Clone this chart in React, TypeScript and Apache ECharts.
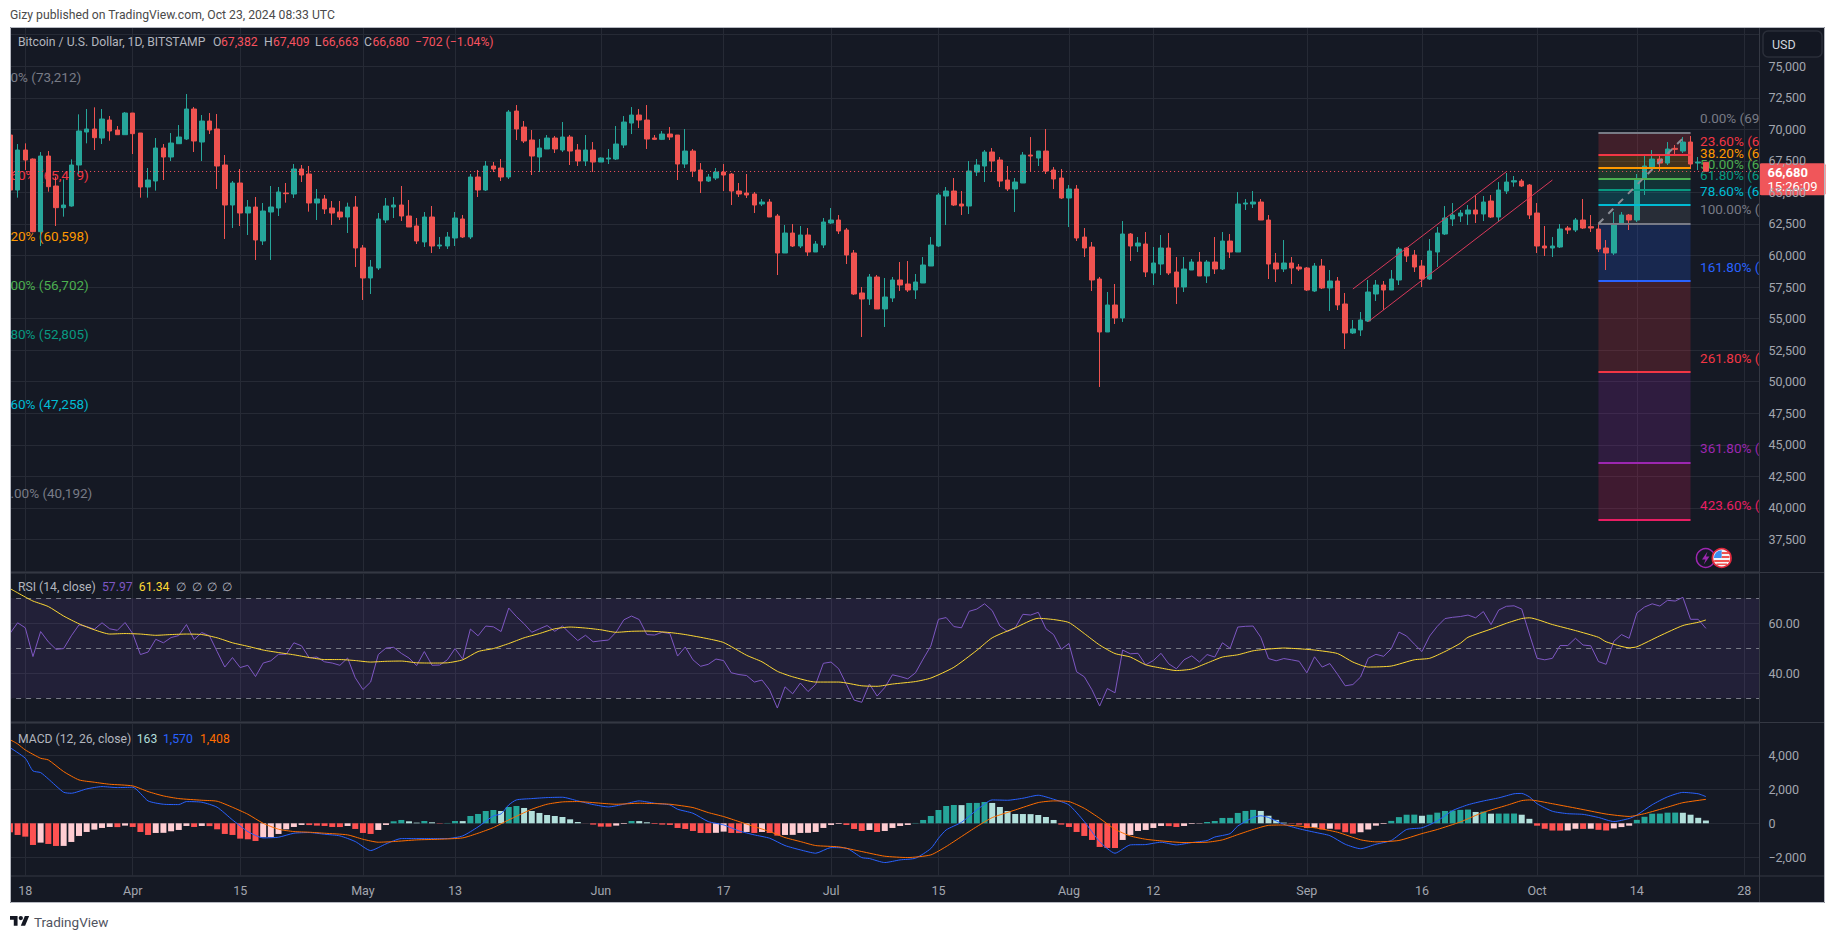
import React, { useEffect, useRef } from "react";
import * as echarts from "echarts";

const BG = "#151924";
const GRID = "#262a35";
const SEP = "#343843";
const AXIS_TEXT = "#a3a6af";
const FONT = "Roboto, 'Noto Sans', sans-serif";

const monthRanges: [string, number, number][] = [
  ["Mar", 16, 31], ["Apr", 1, 30], ["May", 1, 31], ["Jun", 1, 30], ["Jul", 1, 31], ["Aug", 1, 31], ["Sep", 1, 30], ["Oct", 1, 30],
];
const categories: string[] = [];
monthRanges.forEach(([m, a, b]) => { for (let d = a; d <= b; d++) categories.push(`${m} ${d}`); });

const timeTicks: Record<string, string> = {
  "Mar 18": "18", "Apr 1": "Apr", "Apr 15": "15", "May 1": "May", "May 13": "13", "Jun 1": "Jun", "Jun 17": "17", "Jul 1": "Jul",
  "Jul 15": "15", "Aug 1": "Aug", "Aug 12": "12", "Sep 1": "Sep", "Sep 16": "16", "Oct 1": "Oct", "Oct 14": "14", "Oct 28": "28",
};

// [open, close, low, high]
const candlesMar = [
  [69550,65190,65190,69700],[65192,68361,64585,68837],[68361,67569,66777,68890],[67648,61891,61838,67700],[61891,67886,60756,68203],
  [67886,65456,65060,68282],[65509,63793,62340,66249],[63793,64004,63080,66037],[63925,67173,63872,67622],[67173,69867,66460,71187],
  [69788,70025,68890,71610],[70025,69339,68361,71742],[69312,70818,68837,71610],[70739,69867,69101,71055],[69946,69576,69576,70263],
  [69576,71293,69576,71372],
];
const candlesApr = [
  [71293,69656,68045,71293],[69708,65430,64585,69708],[65430,65985,64585,66935],[65905,68520,65139,69312],[68520,67807,65985,68837],
  [67807,68916,67490,69708],[68863,69392,68863,70342],[69233,71610,69154,72798],[71610,69075,68203,71768],[68995,70659,67490,71135],
  [70659,69946,69629,71293],[70025,67094,65271,71214],[67173,64004,61310,67965],[64004,65747,62182,65905],[65747,63370,62340,66856],
  [63370,63845,61627,64400],[63845,61231,59646,64638],[61152,63528,60835,64162],[63449,63845,59646,65509],[63766,65034,63132,65430],
  [64955,64902,64189,65747],[64875,66856,64558,67252],[66856,66381,65826,67173],[66460,64162,63476,67094],[64162,64479,62816,65271],
  [64479,63687,63291,64796],[63766,63370,62419,64321],[63449,63053,62816,64321],[63053,63845,61785,64189],[63845,60597,59092,64717],
];
const candlesMay = [
  [60597,58220,56477,60835],[58220,59092,56952,59646],[59013,62895,58854,63370],[62816,63925,62578,64558],[63845,64004,62974,64638],
  [64004,63132,62736,65509],[63132,62261,62261,64400],[62340,61152,60914,62974],[61073,63053,60676,63449],[63053,60755,60201,63925],
  [60755,60835,60518,61469],[60755,61469,60518,61864],[61389,62974,60755,63449],[62895,61469,61389,63212],[61469,66222,61310,66460],
  [66222,65192,64638,66777],[65192,67094,65113,67490],[67094,66856,66619,67411],[66935,66222,65905,67648],[66222,71372,66064,71531],
  [71452,70025,69154,71927],[70184,69075,68916,70659],[69154,67886,66381,69946],[67807,68520,66619,69233],[68441,69312,68441,69550],
  [69312,68441,68124,69471],[68361,69392,68203,70580],[69392,68282,67173,69550],[68361,67490,67094,68837],[67490,68361,67094,69550],
  [68361,67411,66619,68995],
];
const candlesJun = [
  [67411,67728,67411,67780],[67648,67728,67252,68441],[67649,68837,67569,70263],[68756,70579,68519,71054],[70500,71133,69628,71767],
  [71133,70737,70103,71609],[70737,69232,68440,71926],[69311,69205,69152,69549],[69205,69628,69152,69866],[69628,69390,69152,70182],
  [69549,67251,65983,69549],[67251,68281,66934,70024],[68281,66696,66221,68440],[66776,65904,64953,67330],[65904,66221,65825,66459],
  [66142,66617,65983,66934],[66617,66380,65112,67251],[66459,65112,64003,66538],[65112,64874,64636,65746],[64953,64795,64557,66459],
  [64874,64003,63369,65033],[64082,64240,63923,64478],[64240,63052,63052,64478],[63131,60200,58457,63290],[60200,61784,60200,62418],
  [61784,60754,60675,62497],[60754,61626,60596,62339],[61626,60279,59962,62180],[60279,60913,60279,61150],[60833,62656,60596,62973],
];
const candlesJul = [
  [62577,62814,62497,63765],[62814,61943,61705,63210],[62022,60041,59328,62180],[60200,56951,56872,60437],[57031,56555,53544,57506],
  [56555,58298,56080,58536],[58298,55763,55763,58457],[55763,56713,54337,58219],[56634,58060,56317,58298],[58060,57664,57189,59486],
  [57743,57268,57110,59566],[57268,57902,56555,58536],[57823,59249,57823,59883],[59170,60833,59170,61467],[60754,64795,60675,64953],
  [64716,65112,62418,65429],[65112,64003,63923,66142],[64082,63923,63210,65112],[63923,66696,63290,67489],[66617,67172,66300,67647],
  [67093,68202,65825,68360],[68202,67489,66617,68519],[67568,65904,65429,67806],[65983,65270,65112,67093],[65270,65825,63448,66142],
  [65746,67964,65746,68202],[67964,67885,66617,69390],[67726,68281,67093,68281],[68281,66696,66459,70024],[66776,66063,65270,67013],
  [66142,64557,64478,66855],
];
const candlesAug = [
  [64557,65270,62260,65587],[65270,61388,61150,65587],[61467,60596,59883,62180],[60675,58060,57189,61071],[58140,53941,49583,58298],
  [53941,56080,53941,57110],[56080,55050,54574,57743],[55050,61705,54733,62735],[61705,60754,59566,61784],[60754,60992,60279,61467],
  [60913,58694,58298,61863],[58615,59408,57664,60675],[59328,60596,58457,61626],[60596,58615,58457,61784],[58694,57506,56159,59883],
  [57506,58932,57110,59883],[58853,59486,58853,59724],[59486,58378,58378,60279],[58378,59486,57823,59645],[59486,58932,58536,61467],
  [58932,61150,58853,61863],[61150,60279,59803,61705],[60279,64082,60279,65033],[64082,64161,63607,64478],[64082,64240,63765,65112],
  [64240,62814,62814,64478],[62814,59328,58140,63210],[59407,58932,57901,60200],[58932,59407,58694,61229],[59407,59011,57743,59883],
  [59090,58932,58773,59328],
];
const candlesSep = [
  [59011,57268,57189,59090],[57189,59170,57110,59407],[59170,57427,57347,59724],[57427,57981,55604,58853],[57981,56080,55683,58298],
  [56159,53861,52594,57030],[53861,54178,53782,54891],[54099,54891,53624,55525],[54812,57110,54733,58060],[56951,57664,56397,58060],
  [57664,57268,55683,57981],[57268,58140,57268,58853],[58060,60516,57664,60675],[60596,59962,59486,60675],[60041,59090,58694,60437],
  [59170,58140,57506,59645],[58140,60358,58060,61308],[60279,61784,59090,62260],[61705,62973,61626,63923],[62894,63210,62339,64161],
  [63131,63369,62656,63607],[63290,63607,62418,64003],[63607,63290,62577,64795],[63290,64240,62735,64716],[64319,63052,62973,64795],
  [63052,65191,62656,65825],[65112,65825,64874,66538],[65825,65930,65455,66300],[65904,65508,65429,66063],[65587,63210,62893,65666],
];
const candlesOct = [
  [63369,60754,60200,64161],[60754,60596,59962,62339],[60596,60754,59883,61467],[60675,62101,60596,62497],[62180,62022,61705,62339],
  [62022,62814,61863,62973],[62814,62180,62101,64478],[62286,62180,61863,63210],[62101,60516,60279,62497],[60596,60200,58853,61229],
  [60200,62497,60041,63448],[62471,63210,62418,63448],[63210,62814,62022,63290],[62814,66063,62656,66459],[66063,67093,64795,67964],
  [67013,67647,66855,68360],[67647,67330,66696,67964],[67330,68440,67172,68994],[68493,68413,68043,68756],[68281,68994,68123,69390],
  [68994,67251,66855,69469],[67330,67409,66776,67806],[67382,66680,66663,67409],
];

const rsiMar = [55.9,60.2,58.2,46.7,56.7,52.6,49.6,49.9,55.0,59.4,58.7,57.6,60.2,57.8,57.2,60.3];
const rsiApr = [55.9,47.5,48.5,53.6,52.2,54.3,55.1,59.5,53.5,56.3,55.0,48.7,42.5,46.3,42.3,43.2,38.7,44.1,45.0,47.6,47.6,52.2,51.0,46.2,46.5,44.6,44.1,43.2,46.1,38.2];
const rsiMay = [33.5,36.5,47.5,50.1,50.4,48.0,46.1,43.1,48.7,43.2,43.3,45.4,49.9,45.7,57.7,55.0,58.9,58.6,56.7,66.1,62.7,59.8,56.4,57.8,59.1,56.8,58.9,55.9,53.1,55.2,52.6];
const rsiJun = [53.0,53.3,56.5,61.4,62.9,61.5,55.5,55.3,56.4,55.9,46.9,50.5,45.4,42.8,43.6,45.7,45.1,40.2,39.5,39.1,36.5,37.3,33.3,26.1,34.6,31.8,36.1,32.7,35.6,44.0];
const rsiJul = [44.5,41.8,35.6,29.3,28.4,35.7,30.9,34.3,39.4,38.7,37.8,40.2,45.7,50.9,61.6,62.3,58.7,58.2,64.8,65.7,67.8,65.1,58.9,56.7,58.2,63.6,63.3,64.4,57.8,55.5,49.6];
const rsiAug = [51.9,40.6,38.6,33.4,26.9,33.9,32.2,49.3,47.8,48.0,43.4,45.1,48.0,43.8,41.8,45.4,47.0,44.5,47.5,46.5,52.2,50.0,58.5,58.8,58.9,54.4,45.9,45.0,45.9,45.4,44.8];
const rsiSep = [40.2,46.6,42.5,43.9,39.6,35.0,35.5,38.5,46.0,47.6,46.8,49.8,56.5,54.9,51.7,48.7,54.9,58.8,61.9,62.4,62.7,63.3,62.2,64.7,59.5,65.3,66.8,67.0,65.7,55.7];
const rsiOct = [46.0,45.4,46.0,51.1,51.1,54.0,51.3,51.0,44.7,43.6,52.8,55.5,54.0,64.1,66.5,67.8,66.9,69.2,68.9,70.4,61.6,61.6,57.97];

const rsiMa: [string, number][] = [
  ["Mar 16",73.9],["Mar 17",72.2],["Mar 18",70.5],["Mar 19",68.9],["Mar 21",66.7],["Mar 23",62.9],["Mar 25",59.8],["Mar 27",57.4],["Mar 29",55.7],["Mar 31",55.9],
  ["Apr 2",55.7],["Apr 4",55.2],["Apr 6",55.5],["Apr 8",55.7],["Apr 10",55.5],["Apr 12",54.2],["Apr 14",52.2],["Apr 16",50.8],["Apr 18",49.3],["Apr 20",48.3],
  ["Apr 22",47.4],["Apr 24",46.3],["Apr 26",45.5],["Apr 28",45.5],["Apr 30",45.1],["May 2",44.5],["May 4",44.8],["May 6",44.9],["May 8",44.2],["May 10",44.1],
  ["May 12",44.2],["May 14",45.4],["May 16",48.7],["May 18",49.9],["May 20",51.9],["May 22",54.2],["May 24",55.9],["May 26",57.8],["May 28",58.5],["May 30",58.1],
  ["Jun 1",57.4],["Jun 3",56.4],["Jun 5",56.8],["Jun 7",56.9],["Jun 10",56.3],["Jun 12",55.5],["Jun 15",53.8],["Jun 17",52.3],["Jun 20",47.2],["Jun 22",44.6],
  ["Jun 24",40.8],["Jun 26",38.6],["Jun 29",36.5],["Jul 2",36.5],["Jul 5",35.0],["Jul 7",34.8],["Jul 9",35.7],["Jul 12",36.7],["Jul 14",38.1],["Jul 17",42.4],
  ["Jul 20",49.2],["Jul 22",54.2],["Jul 25",58.2],["Jul 28",62.0],["Jul 30",61.5],["Aug 1",60.3],["Aug 3",55.9],["Aug 5",51.3],["Aug 7",47.9],["Aug 9",46.5],
  ["Aug 11",43.4],["Aug 13",42.1],["Aug 15",41.1],["Aug 17",41.7],["Aug 19",44.1],["Aug 21",46.5],["Aug 23",47.4],["Aug 25",49.0],["Aug 27",49.7],["Aug 29",50.1],
  ["Aug 31",49.8],["Sep 2",49.3],["Sep 5",47.9],["Sep 7",44.5],["Sep 9",42.5],["Sep 12",42.9],["Sep 15",45.4],["Sep 17",46.0],["Sep 19",48.7],["Sep 21",52.0],
  ["Sep 22",54.4],["Sep 25",57.7],["Sep 27",60.0],["Sep 29",61.9],["Sep 30",62.2],["Oct 3",59.5],["Oct 6",57.1],["Oct 9",54.4],["Oct 10",52.6],["Oct 13",50.2],
  ["Oct 14",50.6],["Oct 17",55.0],["Oct 20",59.1],["Oct 22",60.4],["Oct 23",61.34],
];

const histMar = [-529,-686,-784,-1274,-1137,-1215,-1333,-1330,-1098,-745,-510,-372,-274,-216,-225,-137];
const histApr = [-216,-510,-686,-568,-560,-470,-392,-157,-216,-157,-165,-353,-627,-686,-902,-941,-1039,-823,-820,-627,-353,-216,-98,-105,-137,-157,-216,-220,-157,-333];
const histMay = [-568,-627,-392,-98,118,196,118,39,137,59,-20,20,137,130,431,549,725,784,725,960,1019,902,725,608,490,431,372,235,78,-5,-78];
const histJun = [-196,-200,-137,-39,137,130,59,-39,-78,-98,-274,-333,-451,-568,-575,-560,-490,-568,-575,-510,-568,-510,-568,-725,-686,-680,-568,-560,-510,-274];
const histJul = [-98,-39,-98,-333,-451,-392,-510,-451,-274,-157,-98,20,196,431,784,1019,1078,1070,1196,1200,1254,1196,960,725,549,545,540,490,372,196,-78];
const histAug = [-216,-510,-745,-980,-1392,-1450,-1455,-980,-686,-451,-392,-274,-157,-165,-216,-157,-39,-20,78,137,314,318,610,727,788,727,444,202,40,-20,-81];
const histSep = [-280,-260,-360,-320,-365,-525,-606,-525,-364,-141,-40,141,364,505,510,444,505,626,727,747,788,808,667,687,566,570,572,575,505,263];
const histOct = [-141,-323,-424,-430,-420,-323,-330,-320,-384,-424,-303,-222,-141,202,384,566,570,626,630,620,505,323,163];

const macdLine: [string, number][] = [
  ["Mar 16",4453],["Mar 18",3826],["Mar 19",3081],["Mar 20",2983],["Mar 21",2611],["Mar 23",1827],["Mar 24",1768],["Mar 26",2023],["Mar 28",2160],["Mar 30",2101],
  ["Apr 1",2121],["Apr 3",1317],["Apr 5",1121],["Apr 7",1102],["Apr 8",1278],["Apr 10",1239],["Apr 12",944],["Apr 14",200],["Apr 16",-486],["Apr 18",-858],
  ["Apr 20",-819],["Apr 22",-584],["Apr 24",-545],["Apr 26",-643],["Apr 28",-741],["Apr 30",-1074],["May 2",-1603],["May 4",-1211],["May 6",-898],["May 8",-898],
  ["May 10",-898],["May 12",-898],["May 14",-741],["May 16",-212],["May 18",435],["May 19",553],["May 20",1082],["May 21",1376],["May 23",1454],["May 25",1513],
  ["May 27",1533],["May 29",1317],["May 31",1102],["Jun 2",964],["Jun 4",1121],["Jun 6",1317],["Jun 8",1180],["Jun 10",1082],["Jun 11",827],["Jun 13",592],
  ["Jun 15",102],["Jun 17",-94],["Jun 19",-447],["Jun 21",-682],["Jun 23",-878],["Jun 25",-1309],["Jun 27",-1564],["Jun 29",-1760],["Jul 1",-1427],["Jul 3",-1466],
  ["Jul 5",-2015],["Jul 6",-2074],["Jul 8",-2309],["Jul 10",-2152],["Jul 12",-2054],["Jul 14",-1486],["Jul 15",-878],["Jul 16",-388],["Jul 18",59],["Jul 20",788],
  ["Jul 22",1376],["Jul 24",1356],["Jul 26",1474],["Jul 28",1650],["Jul 30",1415],["Aug 1",1082],["Aug 3",102],["Aug 5",-1074],["Aug 7",-1760],["Aug 9",-1270],
  ["Aug 11",-1250],["Aug 13",-1113],["Aug 15",-1270],["Aug 17",-1133],["Aug 19",-1015],["Aug 20",-808],["Aug 22",-606],["Aug 23",-162],["Aug 25",343],["Aug 26",444],
  ["Aug 27",343],["Aug 29",-61],["Aug 31",-323],["Sep 2",-525],["Sep 4",-727],["Sep 6",-1232],["Sep 8",-1495],["Sep 10",-1232],["Sep 12",-1010],["Sep 14",-364],
  ["Sep 16",-263],["Sep 18",141],["Sep 20",747],["Sep 22",1091],["Sep 24",1313],["Sep 26",1495],["Sep 28",1737],["Sep 29",1757],["Sep 30",1555],["Oct 1",1151],
  ["Oct 3",707],["Oct 5",566],["Oct 7",525],["Oct 9",343],["Oct 11",101],["Oct 13",283],["Oct 14",485],["Oct 16",1091],["Oct 18",1555],["Oct 20",1818],["Oct 22",1737],["Oct 23",1570],
];
const macdSignal: [string, number][] = [
  ["Mar 16",4924],["Mar 17",4669],["Mar 18",4316],["Mar 20",3826],["Mar 21",3728],["Mar 23",3042],["Mar 25",2552],["Mar 27",2415],["Mar 29",2297],["Apr 1",2199],
  ["Apr 3",1866],["Apr 5",1611],["Apr 7",1454],["Apr 10",1356],["Apr 12",1298],["Apr 14",944],["Apr 16",533],["Apr 18",0],["Apr 20",-349],["Apr 22",-486],
  ["Apr 24",-525],["Apr 26",-584],["Apr 29",-682],["May 1",-937],["May 3",-1113],["May 5",-1074],["May 8",-976],["May 11",-937],["May 14",-858],["May 16",-584],
  ["May 18",-251],["May 20",200],["May 23",827],["May 25",1121],["May 27",1258],["May 29",1278],["Jun 1",1180],["Jun 3",1121],["Jun 6",1180],["Jun 8",1160],
  ["Jun 10",1121],["Jun 13",925],["Jun 15",631],["Jun 17",396],["Jun 19",102],["Jun 21",-192],["Jun 23",-486],["Jun 25",-839],["Jun 27",-1074],["Jun 29",-1309],
  ["Jul 2",-1388],["Jul 5",-1662],["Jul 8",-1936],["Jul 11",-2015],["Jul 14",-1858],["Jul 16",-1368],["Jul 18",-780],["Jul 20",-192],["Jul 22",333],["Jul 25",784],
  ["Jul 28",1219],["Jul 30",1317],["Aug 1",1278],["Aug 3",882],["Aug 5",294],["Aug 7",-353],["Aug 9",-745],["Aug 11",-937],["Aug 13",-1035],["Aug 16",-1133],
  ["Aug 19",-1113],["Aug 21",-976],["Aug 23",-667],["Aug 25",-364],["Aug 27",-121],["Aug 29",-101],["Sep 2",-263],["Sep 5",-525],["Sep 8",-970],["Sep 10",-1091],
  ["Sep 13",-1010],["Sep 16",-606],["Sep 18",-364],["Sep 21",81],["Sep 24",646],["Sep 27",1050],["Sep 29",1333],["Sep 30",1374],["Oct 3",1151],["Oct 7",808],
  ["Oct 10",545],["Oct 13",404],["Oct 15",566],["Oct 18",949],["Oct 20",1212],["Oct 23",1408],
];

const fibPrices = [69730, 67950, 66940, 66070, 65200, 64000, 62520, 57980, 50770, 43580, 39070];
const fibLabels = ["0.00% (69", "23.60% (6", "38.20% (6", "50.00% (6", "61.80% (6", "78.60% (6", "100.00% (", "161.80% (", "261.80% (", "361.80% (", "423.60% ("];
const fibColors = ["#787b86", "#f23645", "#ff9800", "#4caf50", "#089981", "#00bcd4", "#787b86", "#2962ff", "#f23645", "#9c27b0", "#e91e63"];
const oldFibPrices = [73212, 65419, 60598, 56702, 52805, 47258, 40192];
const oldFibLabels = ["0% (73,212)", "60% (65,419)", "20% (60,598)", "00% (56,702)", "80% (52,805)", "60% (47,258)", ".00% (40,192)"];
const oldFibColors = ["#787b86", "#f23645", "#ff9800", "#4caf50", "#089981", "#00bcd4", "#787b86"];

const priceTicksMin = 35000, priceTicksMax = 77500;

export default function App() {
  const ref = useRef<HTMLDivElement>(null);
  useEffect(() => {
    document.body.style.margin = "0";
    document.body.style.background = "#fff";
    const chart = echarts.init(ref.current!, undefined, { renderer: "svg" });
    try {
      echarts.graphic.registerShape("tvlogo", echarts.graphic.extendPath("M14 22H7V11H0V4h14v18zM28 22h-8l7.5-18h8L28 22zM24 8a4 4 0 1 1-8 0 4 4 0 0 1 8 0z", {}));
    } catch (e) {}

    const candles = [...candlesMar, ...candlesApr, ...candlesMay, ...candlesJun, ...candlesJul, ...candlesAug, ...candlesSep, ...candlesOct];
    const rsi = [...rsiMar, ...rsiApr, ...rsiMay, ...rsiJun, ...rsiJul, ...rsiAug, ...rsiSep, ...rsiOct];
    const hist = [...histMar, ...histApr, ...histMay, ...histJun, ...histJul, ...histAug, ...histSep, ...histOct];
    const histColor = (i: number) => {
      const v = hist[i];
      const prev = i > 0 ? hist[i - 1] : v - 1;
      if (i === 0) return "#ff5252";
      if (v >= 0) return v >= prev ? "#26a69a" : "#b2dfdb";
      return v <= prev ? "#ff5252" : "#ffcdd2";
    };

    const left = 6.1, band = 7.674;
    const gridW = band * categories.length;
    const grids = [
      { left, width: gridW, top: 34.7, height: 536.3 },
      { left, width: gridW, top: 573.3, height: 150 },
      { left, width: gridW, top: 721.3, height: 136 },
      { left, width: gridW, top: 857.3, height: 18.7 },
      { left, width: gridW, top: 27, height: 7.7 },
    ];
    const isTick = (_i: number, v: string) => !!timeTicks[v];
    const xAxis = grids.map((_, i) => ({
      type: "category", gridIndex: i, data: categories, boundaryGap: true,
      axisLine: { show: false }, axisTick: { show: false },
      splitLine: { show: true, interval: (idx: number) => !!timeTicks[categories[idx]], alignWithLabel: true, lineStyle: { color: GRID, width: 1 } },
      axisLabel: i === 3 ? {
        show: true, interval: isTick, formatter: (v: string) => timeTicks[v] || "", color: AXIS_TEXT, fontFamily: FONT, fontSize: 12.5, margin: 8,
      } : { show: false },
      z: i === 3 ? 10 : 0,
    }));
    const lineAxis = (g: number, min: number, max: number, interval: number) => ({
      type: "value", gridIndex: g, min, max, interval, position: "right",
      axisLine: { show: false }, axisTick: { show: false }, axisLabel: { show: false },
      splitLine: { show: true, lineStyle: { color: GRID, width: 1 } }, z: 0,
    });
    const labelAxis = (g: number, min: number, max: number, interval: number, formatter: (v: number) => string) => ({
      type: "value", gridIndex: g, min, max, interval, position: "right",
      axisLine: { show: false }, axisTick: { show: false }, splitLine: { show: false },
      axisLabel: { show: true, margin: 5, color: AXIS_TEXT, fontFamily: FONT, fontSize: 12.5, formatter, align: "left" }, z: 10,
    });
    const yAxis = [
      lineAxis(0, priceTicksMin, priceTicksMax, 2500),
      labelAxis(0, priceTicksMin, priceTicksMax, 2500, (v) => (v >= 37500 && v <= 75000 ? v.toLocaleString("en-US") : "")),
      lineAxis(1, 20, 80, 20),
      labelAxis(1, 20, 80, 20, (v) => (v === 60 || v === 40 ? v.toFixed(2) : "")),
      lineAxis(2, -2000, 6000, 2000),
      labelAxis(2, -2000, 6000, 2000, (v) => (v > 4000 ? "" : v < 0 ? "\u2212" + Math.abs(v).toLocaleString("en-US") : v.toLocaleString("en-US"))),
      { type: "value", gridIndex: 3, min: 0, max: 1, show: false },
      { type: "value", gridIndex: 4, min: 0, max: 1, show: false },
    ];

    const fibAreas = fibPrices.slice(1).map((p, i) => [
      { coord: ["Oct 9", fibPrices[i]], itemStyle: { color: fibColors[i + 1], opacity: 0.2 } },
      { coord: ["Oct 21", p] },
    ]);
    const fibLines = fibPrices.map((p, i) => [
      { coord: ["Oct 9", p], lineStyle: { color: fibColors[i], width: 2, type: "solid", opacity: 1 } },
      { coord: ["Oct 21", p] },
    ]);
    const channelStyle = { color: "#d8395a", width: 1, type: "solid", opacity: 1 };

    const series: any[] = [
      {
        type: "scatter", name: "fib-old", xAxisIndex: 0, yAxisIndex: 0, z: 1, symbolSize: 1, itemStyle: { color: "transparent", opacity: 1 }, silent: true, clip: false,
        data: oldFibPrices.map((p, i) => ({
          value: ["Mar 16", p],
          label: { show: true, position: "right", distance: 0, offset: [0, -12], formatter: oldFibLabels[i], color: oldFibColors[i], fontFamily: FONT, fontSize: 13.5 },
        })),
      },
      {
        type: "scatter", name: "fib-new", xAxisIndex: 0, yAxisIndex: 0, z: 1, symbolSize: 1, itemStyle: { color: "transparent", opacity: 1 }, silent: true, clip: false,
        data: fibPrices.map((p, i) => ({
          value: ["Oct 21", p],
          label: { show: true, position: "right", distance: 9, offset: [0, -14.5], formatter: fibLabels[i], color: fibColors[i], fontFamily: FONT, fontSize: 13.5 },
        })),
      },
      {
        type: "candlestick", name: "BTCUSD", xAxisIndex: 0, yAxisIndex: 0, z: 2, data: candles, barWidth: 5,
        itemStyle: { color: "#26a69a", color0: "#ef5350", borderColor: "#26a69a", borderColor0: "#ef5350", borderWidth: 1 },
        markArea: { silent: true, z: 1, data: fibAreas },
        markLine: {
          silent: true, z: 7, symbol: ["none", "none"], animation: false, label: { show: false },
          data: [
            ...fibLines,
            [{ coord: ["Oct 9", 62520], lineStyle: { color: "#8a8d96", width: 2, type: [7, 7], opacity: 1 } }, { coord: ["Oct 20", 69290] }],
            [{ coord: ["Sep 7", 57347], lineStyle: channelStyle }, { coord: ["Sep 27", 66643] }],
            [{ coord: ["Sep 9", 54759], lineStyle: channelStyle }, { coord: ["Oct 3", 65983] }],
            {
              yAxis: 66680,
              lineStyle: { color: "#f7525f", width: 1, type: [1, 3], opacity: 1 },
              label: {
                show: true, position: "end", distance: 0, offset: [-4, 8], backgroundColor: "#f0565a", borderRadius: 2,
                padding: [2, 8, 2, 8], align: "left",
                formatter: "{a|66,680}\n{b|15:26:09}",
                rich: {
                  a: { color: "#fff", fontFamily: FONT, fontSize: 13, fontWeight: 700, lineHeight: 14, align: "left" },
                  b: { color: "#fff", fontFamily: FONT, fontSize: 13, lineHeight: 14, align: "left" },
                },
              },
            },
          ],
        },
      },
      {
        type: "line", name: "RSI", xAxisIndex: 1, yAxisIndex: 2, data: rsi, showSymbol: false, lineStyle: { color: "#7e57c2", width: 1 }, z: 3,
        markArea: { silent: true, z: 1, itemStyle: { color: "rgba(126,87,194,0.13)" }, data: [[{ yAxis: 30 }, { yAxis: 70 }]] },
        markLine: {
          silent: true, z: 2, symbol: ["none", "none"], label: { show: false },
          lineStyle: { color: "#787b86", width: 1, type: [5, 5], opacity: 1 },
          data: [{ yAxis: 70 }, { yAxis: 50 }, { yAxis: 30 }],
        },
      },
      { type: "line", name: "RSI MA", xAxisIndex: 1, yAxisIndex: 2, data: rsiMa, showSymbol: false, smooth: 0.2, lineStyle: { color: "#fdd835", width: 1 }, z: 4 },
      {
        type: "bar", name: "Histogram", xAxisIndex: 2, yAxisIndex: 4, barWidth: 6, z: 2,
        data: hist.map((v, i) => ({ value: v, itemStyle: { color: histColor(i) } })),
      },
      { type: "line", name: "MACD", xAxisIndex: 2, yAxisIndex: 4, data: macdLine, showSymbol: false, smooth: 0.2, clip: false, lineStyle: { color: "#2962ff", width: 1 }, z: 4 },
      { type: "line", name: "Signal", xAxisIndex: 2, yAxisIndex: 4, data: macdSignal, showSymbol: false, smooth: 0.2, clip: false, lineStyle: { color: "#ff6d00", width: 1 }, z: 5 },
    ];

    const legendFont = { fontFamily: FONT, fontSize: 12.2 };
    const legendTitle = "#b2b5be";
    const legendRed = "#f7525f";
    const legendText = (x: number, y: number, text: string, fill: string) => ({
      type: "text", x, y, z: 9, silent: true, style: { text, fill, ...legendFont, verticalAlign: "middle" },
    });
    const graphic: any[] = [
      { type: "rect", z: -10, silent: true, shape: { x: 10, y: 27, width: 1815, height: 876 }, style: { fill: BG } },
      { type: "rect", z: 6, silent: true, shape: { x: 1759.5, y: 27, width: 65.5, height: 876 }, style: { fill: BG } },
      { type: "rect", z: 30, silent: true, shape: { x: 0, y: 0, width: 10, height: 939 }, style: { fill: "#fff" } },
      { type: "rect", z: 31, silent: true, shape: { x: 10.5, y: 27.5, width: 1814, height: 875 }, style: { fill: "transparent", stroke: "#b6b9c1", lineWidth: 1 } },
      { type: "line", z: 8, silent: true, shape: { x1: 1759.5, y1: 27, x2: 1759.5, y2: 903 }, style: { stroke: SEP, lineWidth: 1 } },
      { type: "line", z: 8, silent: true, shape: { x1: 10, y1: 572.5, x2: 1825, y2: 572.5 }, style: { stroke: SEP, lineWidth: 1 } },
      { type: "line", z: 8, silent: true, shape: { x1: 10, y1: 722.5, x2: 1825, y2: 722.5 }, style: { stroke: SEP, lineWidth: 1 } },
      { type: "line", z: 8, silent: true, shape: { x1: 10, y1: 876, x2: 1825, y2: 876 }, style: { stroke: SEP, lineWidth: 1 } },
      { type: "rect", z: 9, silent: true, shape: { x: 1763, y: 31, width: 59, height: 26, r: 5 }, style: { fill: "#131722", stroke: "#2a2e39", lineWidth: 1.5 } },
      { type: "text", z: 10, silent: true, x: 1772, y: 44.5, style: { text: "USD", fill: "#d1d4dc", fontFamily: FONT, fontSize: 12.5, verticalAlign: "middle" } },
      { type: "text", z: 10, silent: true, x: 10, y: 15, style: { text: "Gizy published on TradingView.com, Oct 23, 2024 08:33 UTC", fill: "#4a4a4a", fontFamily: FONT, fontSize: 12.2, verticalAlign: "middle" } },
      legendText(18, 42, "Bitcoin / U.S. Dollar, 1D, BITSTAMP", legendTitle),
      legendText(213, 42, "O", legendTitle), legendText(221, 42, "67,382", legendRed),
      legendText(264, 42, "H", legendTitle), legendText(273, 42, "67,409", legendRed),
      legendText(315, 42, "L", legendTitle), legendText(322, 42, "66,663", legendRed),
      legendText(364, 42, "C", legendTitle), legendText(372.5, 42, "66,680", legendRed),
      legendText(415, 42, "\u2212702 (\u22121.04%)", legendRed),
      legendText(18, 587, "RSI (14, close)", legendTitle),
      legendText(102, 587, "57.97", "#7e57c2"),
      legendText(138.8, 587, "61.34", "#fdd835"),
      legendText(175.5, 587, "\u2205", legendTitle), legendText(191.8, 587, "\u2205", legendTitle),
      legendText(207, 587, "\u2205", legendTitle), legendText(221.6, 587, "\u2205", legendTitle),
      legendText(18, 739, "MACD (12, 26, close)", legendTitle),
      legendText(136.7, 739, "163", "#b2dfdb"),
      legendText(163, 739, "1,570", "#2962ff"),
      legendText(200, 739, "1,408", "#ff6d00"),
      { type: "tvlogo", z: 10, silent: true, x: 10, y: 913.8, scaleX: 0.54, scaleY: 0.54, style: { fill: "#131722" } },
      { type: "text", z: 10, silent: true, x: 34, y: 921.5, style: { text: "TradingView", fill: "#50535e", fontFamily: FONT, fontSize: 13.5, verticalAlign: "middle" } },
      // event icons
      { type: "circle", z: 9, silent: true, shape: { cx: 1705.7, cy: 558, r: 9.3 }, style: { fill: BG, stroke: "#9c27b0", lineWidth: 1.5 } },
      { type: "polygon", z: 9, silent: true, shape: { points: [[1707.5, 551.5], [1702, 559.5], [1705.5, 559.5], [1703.8, 564.5], [1709.5, 556.5], [1706, 556.5]] }, style: { fill: "#9c27b0" } },
      { type: "circle", z: 9, silent: true, shape: { cx: 1721.7, cy: 558, r: 9.3 }, style: { fill: "#f4f4f6", stroke: "#e0283c", lineWidth: 1.8 } },
      { type: "sector", z: 9, silent: true, shape: { cx: 1721.7, cy: 558, r: 7.8, r0: 0, startAngle: Math.PI, endAngle: Math.PI * 1.5 }, style: { fill: "#3b8ff0" } },
      { type: "rect", z: 9, silent: true, shape: { x: 1721.7, y: 552, width: 7.5, height: 2 }, style: { fill: "#ef5350" } },
      { type: "rect", z: 9, silent: true, shape: { x: 1721.7, y: 556, width: 7.8, height: 2 }, style: { fill: "#ef5350" } },
      { type: "rect", z: 9, silent: true, shape: { x: 1714.2, y: 560, width: 15, height: 2 }, style: { fill: "#ef5350" } },
      { type: "rect", z: 9, silent: true, shape: { x: 1716.4, y: 563.5, width: 10.6, height: 1.5 }, style: { fill: "#ef5350" } },
    ];

    chart.setOption({
      animation: false,
      backgroundColor: "#ffffff",
      textStyle: { fontFamily: FONT },
      grid: grids,
      xAxis,
      yAxis,
      series,
      graphic: { elements: graphic },
      tooltip: { show: false },
      legend: { show: false },
    });
    return () => chart.dispose();
  }, []);
  return <div ref={ref} style={{ position: "absolute", left: 0, top: 0, width: 1835, height: 939 }} />;
}
